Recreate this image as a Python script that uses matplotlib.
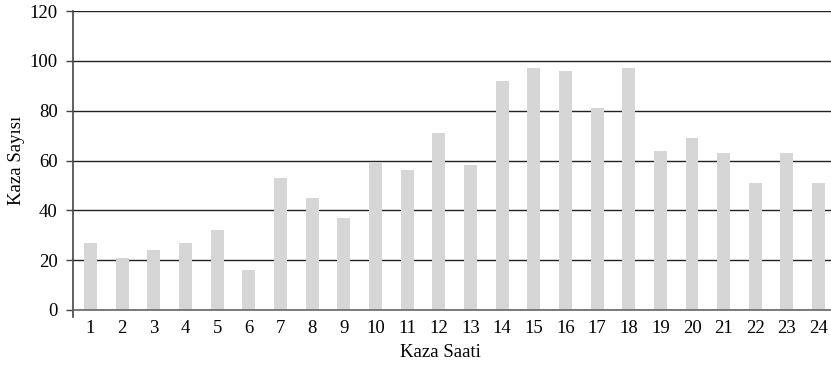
import matplotlib
matplotlib.use("Agg")
import matplotlib.pyplot as plt

hours = list(range(1, 25))
counts = [27, 21, 24, 27, 32, 16, 53, 45, 37, 59, 56, 71, 58, 92, 97, 96, 81, 97, 64, 69, 63, 51, 63, 51]
yticks = [0, 20, 40, 60, 80, 100, 120]

plt.rcParams['font.family'] = ['Liberation Serif', 'DejaVu Serif']

fig = plt.figure(figsize=(8.31, 3.67), dpi=100)
W, H = 831, 367
ax = fig.add_axes([73 / W, 1 - 310 / H, (831 - 73) / W, (310 - 11) / H])

ax.bar(hours, counts, width=0.41, color='#d6d6d6', zorder=2)

ax.set_ylim(0, 120)
ax.set_xlim(0.45, 24.39)
ax.set_yticks(yticks)
ax.set_xticks(hours)
ax.set_xticklabels([str(h) for h in hours])
ax.yaxis.grid(True, color='#222222', linewidth=1.0, zorder=1)
ax.set_axisbelow(True)

for s in ['top', 'right']:
    ax.spines[s].set_visible(False)
ax.spines['bottom'].set_color('#666666')
ax.spines['bottom'].set_linewidth(1.2)
ax.spines['left'].set_color('#444444')
ax.spines['left'].set_linewidth(1.2)
ax.spines['left'].set_bounds(-3, 120)
ax.set_ylim(0, 120)
ax.spines['left'].set_clip_on(False)

ax.tick_params(axis='y', length=5, width=1, color='#444444', labelsize=13.5, pad=6)
ax.tick_params(axis='x', length=0, labelsize=13.5, pad=7)

ax.set_ylabel('Kaza Sayısı', fontsize=13.5)
ax.yaxis.set_label_coords(-(73 - 25) / (831 - 73), 0.5)
ax.set_xlabel('Kaza Saati', fontsize=13.5)
ax.xaxis.set_label_coords((440 - 73) / (831 - 73), -(344 - 310) / (310 - 11))

fig.savefig('out.png', dpi=100)
